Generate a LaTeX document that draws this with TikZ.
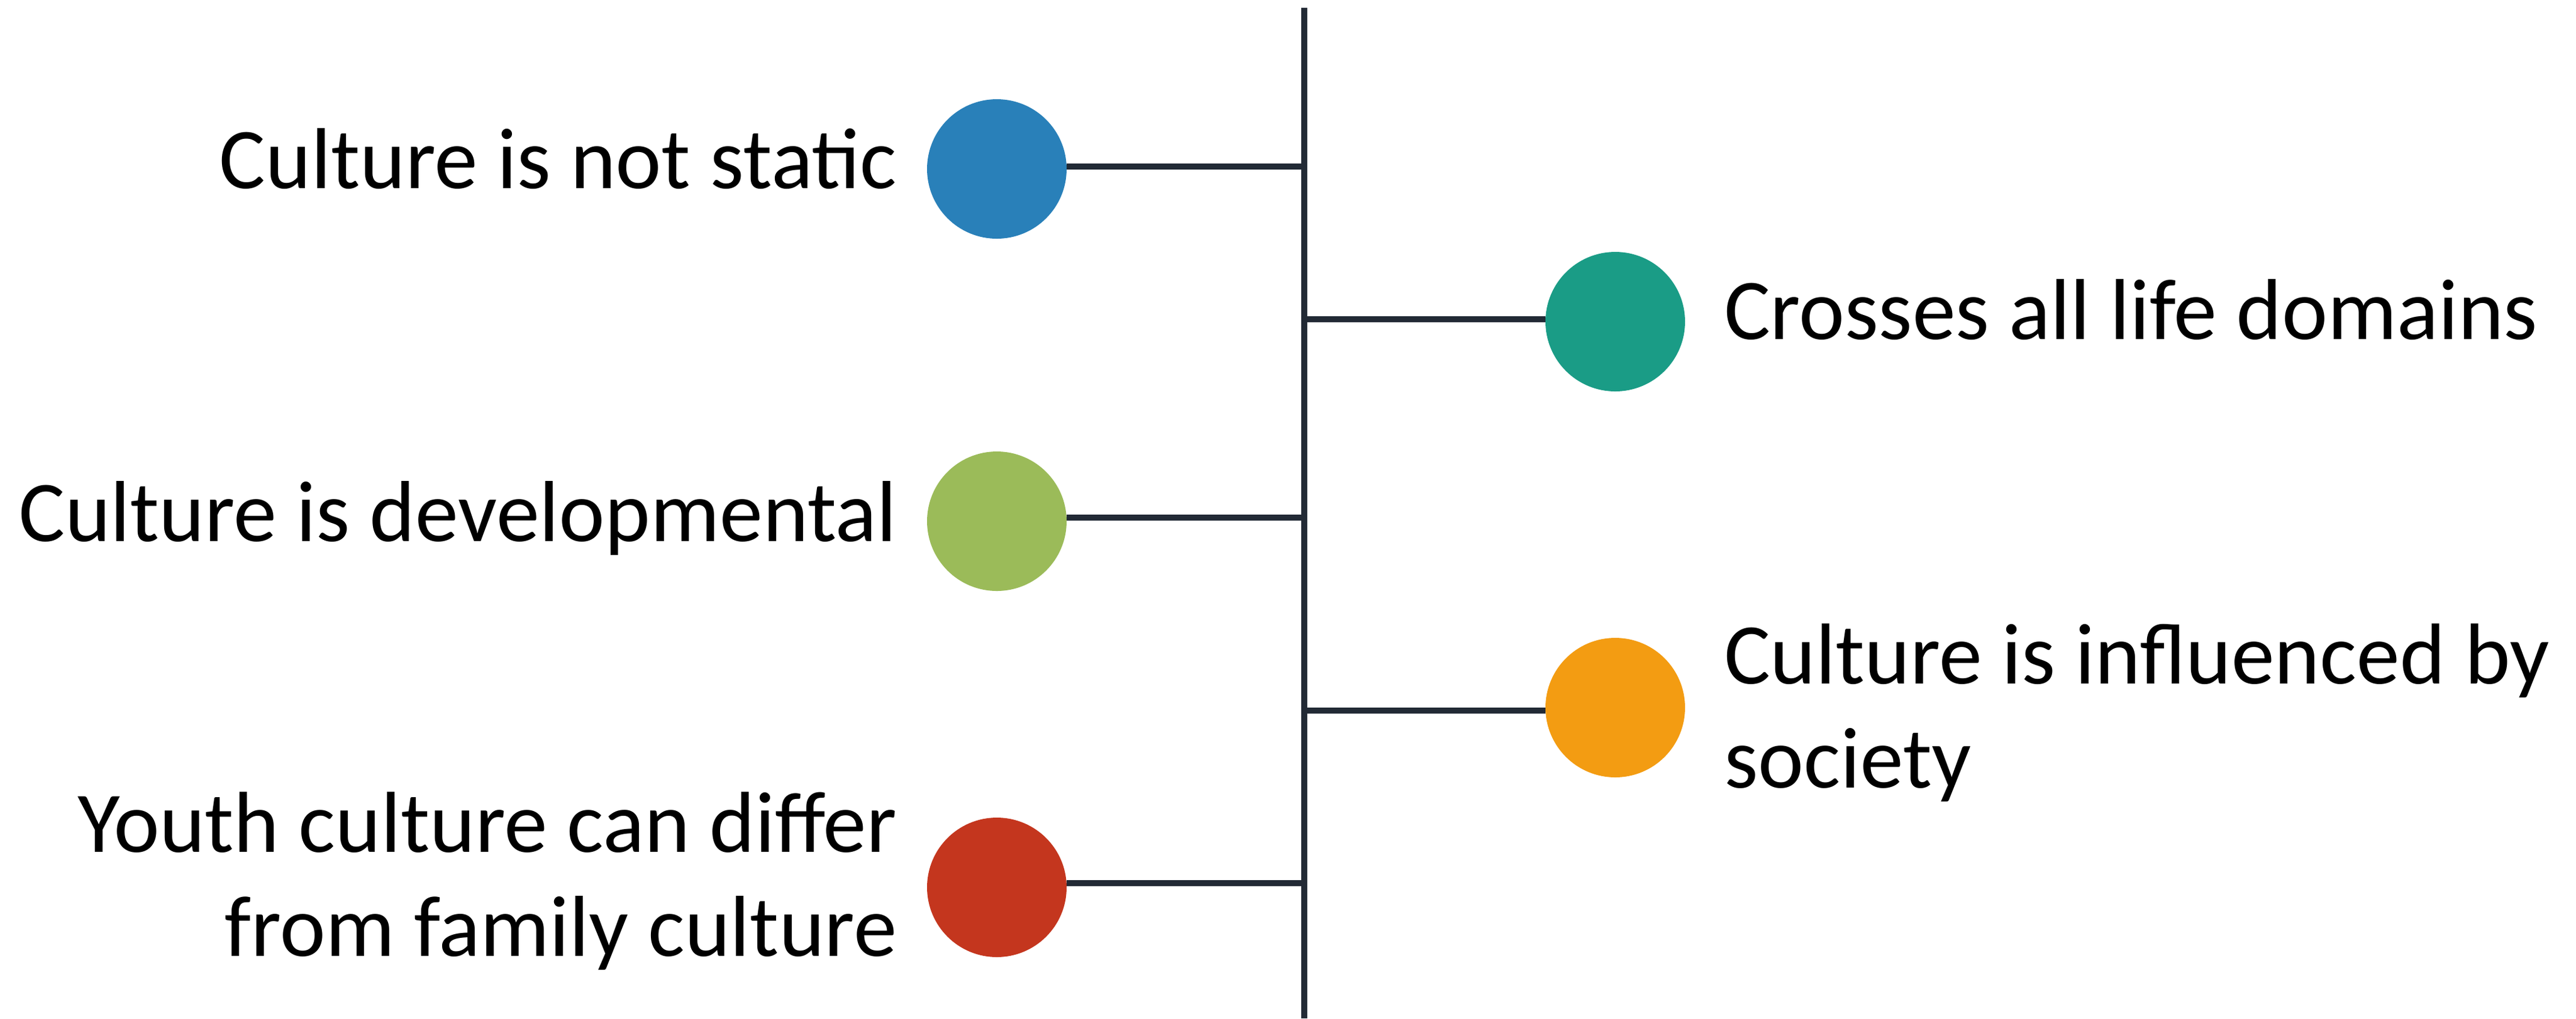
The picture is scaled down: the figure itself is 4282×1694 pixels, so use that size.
\documentclass[tikz,border=0pt]{standalone}
\usepackage{fontspec}
\setmainfont{Carlito}
\definecolor{spinec}{HTML}{222A35}
\definecolor{cblue}{HTML}{2980B9}
\definecolor{cteal}{HTML}{1A9C86}
\definecolor{cgreen}{HTML}{9BBB59}
\definecolor{corange}{HTML}{F39C12}
\definecolor{cred}{HTML}{C4361E}
\begin{document}
\begin{tikzpicture}[x=0.1pt,y=-0.1pt,
  dot/.style={circle,minimum size=23.2pt,inner sep=0pt,outer sep=0pt},
  lbl/.style={inner sep=0pt,outer sep=0pt,font=\fontsize{14.4pt}{17.3pt}\selectfont},
  lbll/.style={lbl,anchor=base east,align=right},
  lblr/.style={lbl,anchor=base west,align=left},
  conn/.style={draw=spinec,line width=1pt}]
\useasboundingbox (0,0) rectangle (4282,1694);
% spine
\coordinate (top) at (2168,13);
\coordinate (bot) at (2168,1694);
\draw[conn] (top) -- (bot);
% spine junctions
\coordinate (s1) at (2168,277);
\coordinate (s2) at (2168,531);
\coordinate (s3) at (2168,861);
\coordinate (s4) at (2168,1182);
\coordinate (s5) at (2168,1469);
% dots
\node[dot,fill=cblue] (d1) at (1657,281) {};
\node[dot,fill=cteal] (d2) at (2685,535) {};
\node[dot,fill=cgreen] (d3) at (1657,867) {};
\node[dot,fill=corange] (d4) at (2685,1177) {};
\node[dot,fill=cred] (d5) at (1657,1476) {};
% connectors
\draw[conn] (d1.east |- s1) -- (s1);
\draw[conn] (s2) -- (d2.west |- s2);
\draw[conn] (d3.east |- s3) -- (s3);
\draw[conn] (s4) -- (d4.west |- s4);
\draw[conn] (d5.east |- s5) -- (s5);
% labels
\node[lbll] (t1) at (1491,313) {Culture is not static};
\node[lblr] (t2) at (2866,564) {Crosses all life domains};
\node[lbll] (t3) at (1491,900) {Culture is developmental};
\node[lblr] (t4) at (2866,1310) {Culture is influenced by\\society};
\node[lbll] (t5) at (1491,1590) {Youth culture can differ\\from family culture};
\end{tikzpicture}
\end{document}
